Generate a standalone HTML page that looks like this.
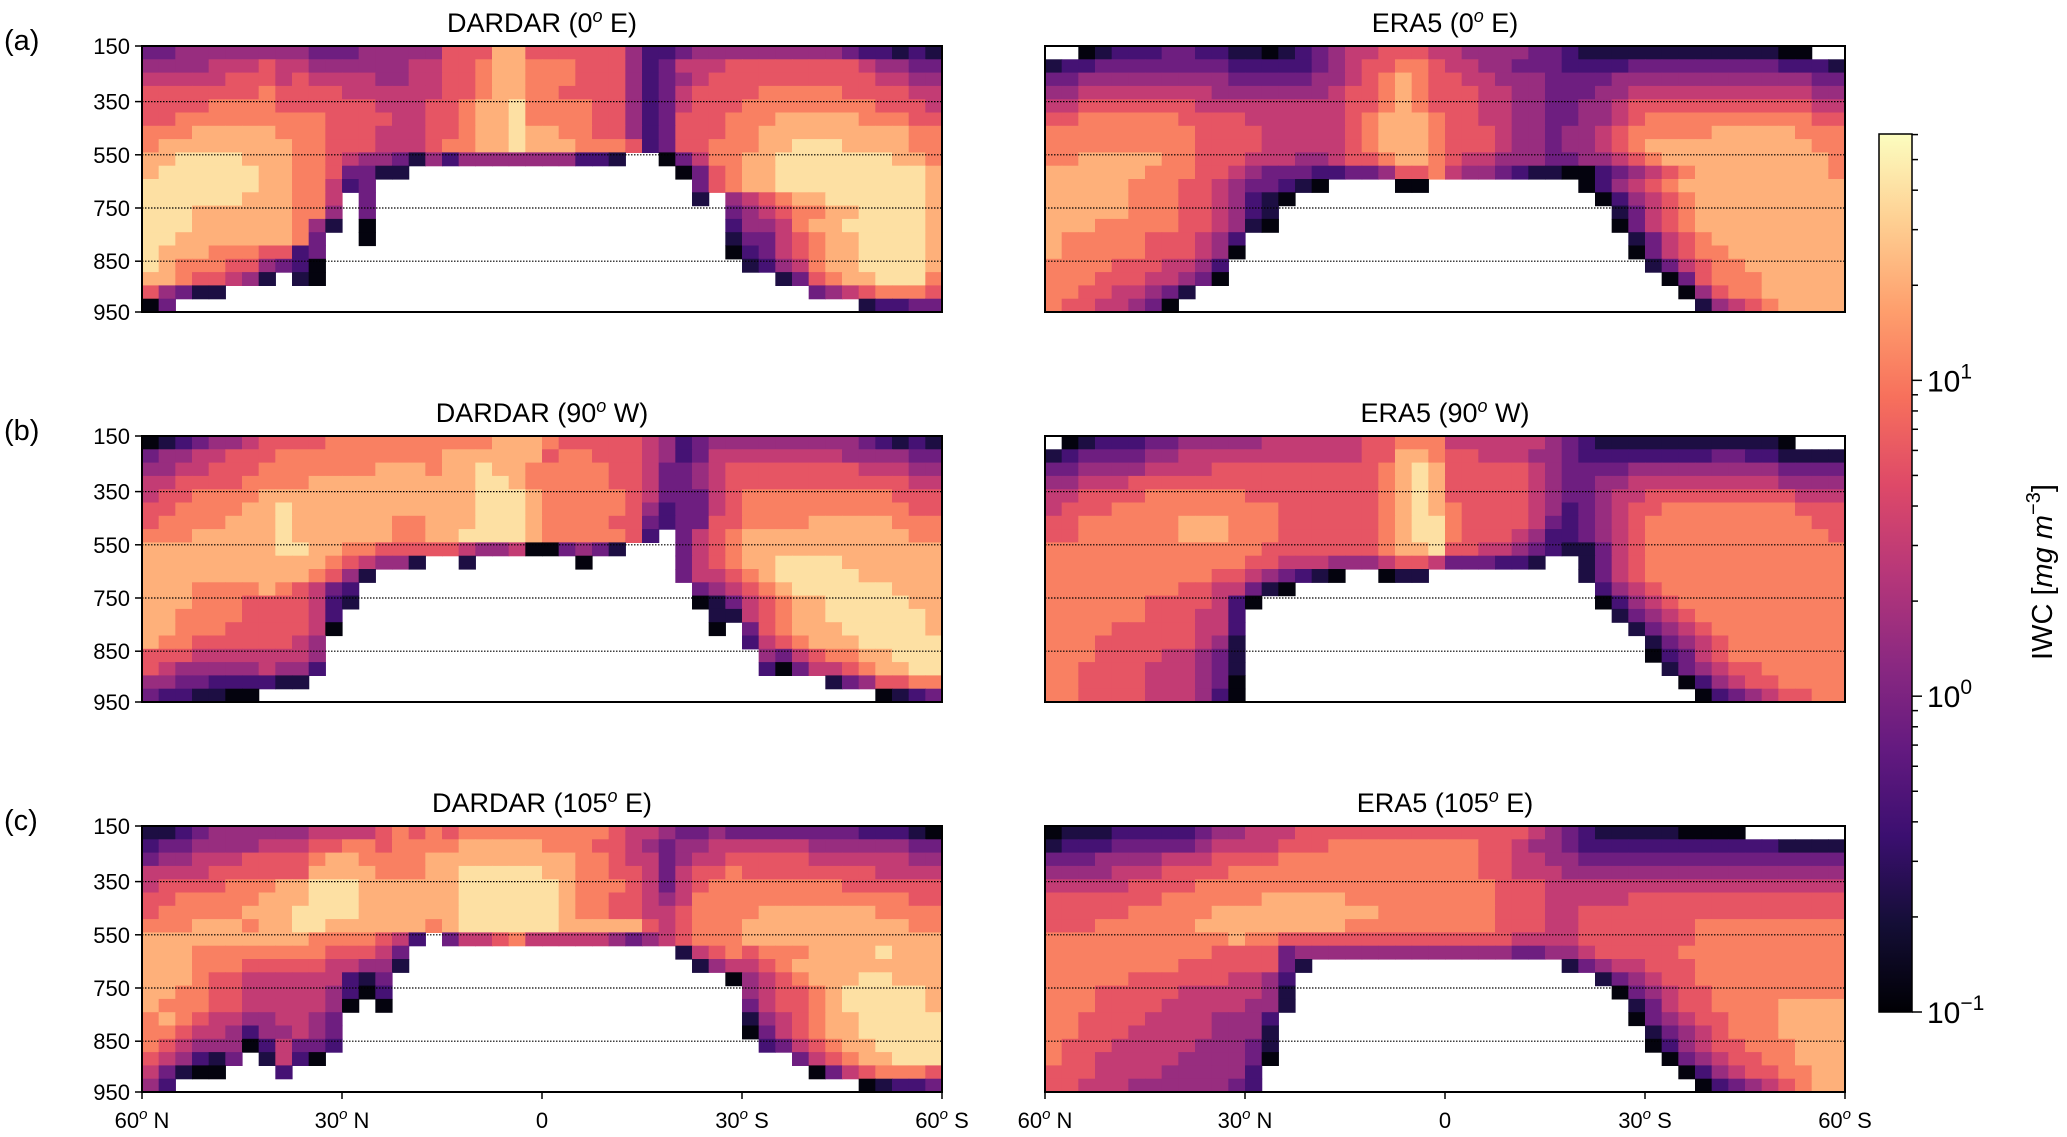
<!DOCTYPE html>
<html><head><meta charset="utf-8"><style>
html,body{margin:0;padding:0;background:#fff}
svg{display:block}
text{font-family:"Liberation Sans","DejaVu Sans",sans-serif;fill:#000}
</style></head><body>
<svg id="fig" width="2067" height="1137" viewBox="0 0 2067 1137" xmlns="http://www.w3.org/2000/svg">
<defs>
<linearGradient id="magmaGrad" x1="0" y1="1" x2="0" y2="0">
<stop offset="0" stop-color="#000004"/><stop offset="0.1" stop-color="#140e36"/><stop offset="0.2" stop-color="#3b0f70"/><stop offset="0.3" stop-color="#641a80"/><stop offset="0.4" stop-color="#8c2981"/><stop offset="0.5" stop-color="#b73779"/><stop offset="0.6" stop-color="#de4968"/><stop offset="0.7" stop-color="#f7705c"/><stop offset="0.8" stop-color="#fe9f6d"/><stop offset="0.9" stop-color="#fecf92"/><stop offset="1" stop-color="#fcfdbf"/>
</linearGradient>
</defs>
</svg>
<script>
// IWC log-binned levels (0 = ~0.1 mg m-3 ... 9 = ~40 mg m-3), '.' = no data. 48 latitude bins (60N..60S) x 20 pressure bins (150..950)
const latTicks = ["60ᵒ N","30ᵒ N","0","30ᵒ S","60ᵒ S"];
const presTicks = ["150","350","550","750","850","950"];
const cbarTicks = ["-1","0","1"];
const dardar0E = [
"33444444 44333444 44666886 66666422 34444444 44322121",
"44445556 55444444 55667887 77666423 55566666 66654433",
"55555666 56555544 55667887 77666423 45666666 66665544",
"66666667 66665555 55667887 76666423 56666777 77666655",
"66667777 66666655 56678897 77766423 56667777 77776665",
"66777777 77766665 56678897 77766423 66677788 88877766",
"77788888 77766655 56678898 87766423 66677888 88888877",
"78888888 87766655 56778898 88777623 66777889 99888877",
"88999988 87765443 14244444 44221..0 35778899 99999887",
"89999998 87763311 ........ ........ 03678899 99999998",
"99999998 877523.. ........ ........ .3678899 99999998",
"99999988 8775.3.. ........ ........ .1.45678 89999998",
"99988888 8774.3.. ........ ........ ...34567 78899998",
"99988888 8741.0.. ........ ........ ...24457 88999998",
"99888888 873..0.. ........ ........ ...13356 78899998",
"98887776 623..... ........ ........ ...02356 78899998",
"98777664 320..... ........ ........ ....1245 78899998",
"88766541 .10..... ........ ........ ......13 67889997",
"64311... ........ ........ ........ ........ 34567776",
"03...... ........ ........ ........ ........ ...12233"];
const era0E = [
"..012223 32211012 34556665 54444332 11111111 111100..",
"12233333 33322222 34566776 55443332 22233333 33332221",
"33444444 44433333 44567876 65544433 33444444 44444433",
"44555555 55444444 45667876 66554433 34455555 55555544",
"55666666 65555555 55667876 66554433 44566666 66666655",
"66777777 66665555 55678887 66554433 44567777 77777766",
"77777777 76666555 55678887 66654434 45677777 88888777",
"77777777 76666555 55678887 66654434 45678888 88888877",
"77888887 76665554 45667887 65544433 44567888 88888887",
"88888877 76654333 22334667 54432110 02345678 88888887",
"88888777 66543321 0....00. ........ 02456788 88888888",
"88888777 6654210. ........ ........ .0245678 88888888",
"88888777 665421.. ........ ........ ..135678 88888888",
"88877777 665410.. ........ ........ ..035678 88888888",
"87777766 6542.... ........ ........ ...13567 88888888",
"87777766 6540.... ........ ........ ...03567 78888888",
"77776665 542..... ........ ........ ....1356 77888888",
"77766655 430..... ........ ........ .....036 77788888",
"77665543 1....... ........ ........ ......04 67788888",
"76655430 ........ ........ ........ .......1 45678888"];
const dardar90W = [
"01234456 66677777 77777888 76666654 23444444 44432121",
"34455666 77777777 77888888 67766654 23555555 55444433",
"44556667 77777788 87889887 77776653 34566666 66655544",
"55666677 77888888 88889987 77776653 34566666 66666655",
"56677778 88888888 88889998 77777653 33567777 77777666",
"66777788 98888888 88889998 77777642 33567777 77777766",
"67777888 98888887 78889998 77776632 33667777 88888777",
"77788888 98888887 78899998 7777762. 35678888 88888877",
"88888888 99887766 66654450 03431... 35678888 88888888",
"88888888 88876544 1..1.... ..0..... 35678899 99888888",
"88888888 887641.. ........ ........ 35567899 99988888",
"88877778 76532... ........ ........ .3456789 99999888",
"88877766 66521... ........ ........ .0135678 89999988",
"88777766 6652.... ........ ........ ..115678 89999998",
"88777666 6650.... ........ ........ ..0.3678 88999998",
"87766666 654..... ........ ........ ....2567 88899999",
"66655555 554..... ........ ........ .....435 67788999",
"65444445 442..... ........ ........ .....203 55678899",
"44332222 11...... ........ ........ ........ .1346677",
"3221100. ........ ........ ........ ........ ....0123"];
const era90W = [
".0122233 44444555 55566777 55555543 21111111 11110...",
"12333344 55555555 55566887 66555443 22222222 33221111",
"33444455 55666666 66667898 66666543 33344444 44443333",
"44555666 66666666 66667898 66666543 34455555 55554444",
"55666677 77776666 66667898 66666543 34556666 66666555",
"56667777 77777766 66667898 76666542 34566777 77777666",
"66777777 88877766 66667899 76666532 34567777 77777766",
"66777777 88877766 66667899 76665422 34567777 77777776",
"77777777 77777666 66667889 66554321 13567777 77777777",
"77777777 77776655 54445665 333221.. 13567777 77777777",
"77777777 77665432 10..011. ........ 13567777 77777777",
"77777777 6655310. ........ ........ .2456777 77777777",
"77777766 66520... ........ ........ .0245677 77777777",
"77777766 6552.... ........ ........ ..134567 77777777",
"77776666 6552.... ........ ........ ...13456 77777777",
"77766666 6541.... ........ ........ ....1345 67777777",
"77766665 5431.... ........ ........ ....0235 67777777",
"77666655 5431.... ........ ........ .....134 56677777",
"77666655 5430.... ........ ........ ......02 45667777",
"77666655 5420.... ........ ........ .......0 23456677"];
const dardar105E = [
"11234444 44555567 67677777 77776554 33433333 33322210",
"23344445 55667767 77788888 77766543 44555555 44444433",
"34455566 66788777 78888888 88776553 45566666 55555544",
"55556666 66888877 78899999 88776653 56676666 66665555",
"56666777 88999888 88899999 98777653 56777777 77666666",
"66777778 88999888 88899999 98776654 57777777 77777766",
"67777788 89999888 88899999 98776655 67777888 88887777",
"77788878 89988888 87899999 98888865 67778888 88888877",
"88888888 88777765 2.355675 55554345 67778888 88888888",
"88877777 77766653 ........ ........ 15676777 88889888",
"88877766 66655441 ........ ........ .1455678 88888888",
"88876655 5555213. ........ ........ ...04567 88899888",
"88776655 5554202. ........ ........ ....4566 78999998",
"87776655 55540.0. ........ ........ ....3566 78999998",
"78765544 5543.... ........ ........ ....1456 78899999",
"77655424 4543.... ........ ........ ....0356 78899999",
"76544402 5332.... ........ ........ .....235 67889999",
"654213.1 520..... ........ ........ .......3 56788999",
"53100... 2....... ........ ........ ........ 03567776",
"42...... ........ ........ ........ ........ ...01223"];
const era105E = [
"01112222 23445556 66666666 66666543 21111100 00......",
"12223333 34555566 67777777 77665443 22222222 22221111",
"33344445 55666677 77777777 77665544 33333333 33333333",
"44445556 66677777 77777777 77665554 44444444 44444444",
"55555666 67777777 77777777 77766655 55555555 55555555",
"66666667 77777888 88777777 77766655 55566666 66666666",
"66666777 77888888 88887777 77766655 66666666 66666666",
"66677777 78888888 88777777 77766655 66666667 77777777",
"77777777 77787766 66666666 66665555 66666667 77777777",
"77777777 77666634 44444444 44443344 56666677 77777777",
"77777777 66666631 ........ .......1 34556667 77777777",
"77777666 6665542. ........ ........ .1345667 77777777",
"77766666 5555541. ........ ........ ..034566 77777777",
"77766665 5555441. ........ ........ ...13566 77778888",
"77666655 554442.. ........ ........ ...03456 67778888",
"77666555 554441.. ........ ........ ....1345 67778888",
"76665555 544431.. ........ ........ ....0245 66777888",
"76655555 444430.. ........ ........ .....034 56677888",
"66655554 44442... ........ ........ ......02 45667788",
"66555444 44432... ........ ........ .......0 23456788"];

const NS='http://www.w3.org/2000/svg';
const svg=document.getElementById('fig');
const stops=["#000004","#140e36","#3b0f70","#641a80","#8c2981","#b73779","#de4968","#f7705c","#fe9f6d","#fecf92","#fcfdbf"];
function hex(h){return [1,3,5].map(i=>parseInt(h.substr(i,2),16));}
function magma(t){t=Math.max(0,Math.min(1,t));const f=t*10,i=Math.min(9,Math.floor(f)),r=f-i;const a=hex(stops[i]),b=hex(stops[i+1]);return 'rgb('+a.map((v,k)=>Math.round(v+(b[k]-v)*r)).join(',')+')';}
function el(tag,attrs,parent){const e=document.createElementNS(NS,tag);for(const k in attrs)e.setAttribute(k,attrs[k]);(parent||svg).appendChild(e);return e;}

const gridFr=[0,0.209,0.409,0.609,0.809,1];
const panels=[
 {x:142,y:46,title:"DARDAR (",deg:"0",dir:" E)",data:dardar0E,lab:"(a)",left:true,bottom:false,name:"dardar-0e"},
 {x:1045,y:46,title:"ERA5 (",deg:"0",dir:" E)",data:era0E,left:false,bottom:false,name:"era5-0e"},
 {x:142,y:436,title:"DARDAR (",deg:"90",dir:" W)",data:dardar90W,lab:"(b)",left:true,bottom:false,name:"dardar-90w"},
 {x:1045,y:436,title:"ERA5 (",deg:"90",dir:" W)",data:era90W,left:false,bottom:false,name:"era5-90w"},
 {x:142,y:826,title:"DARDAR (",deg:"105",dir:" E)",data:dardar105E,lab:"(c)",left:true,bottom:true,name:"dardar-105e"},
 {x:1045,y:826,title:"ERA5 (",deg:"105",dir:" E)",data:era105E,left:false,bottom:true,name:"era5-105e"}];
const W=800,H=266,NC=48,NR=20;
function xScale(p,col){return p.x+col*W/NC;}
function yScale(p,row){return p.y+row*H/NR;}
function levelColor(d){return magma(0.02+d*0.102);}

panels.forEach(p=>{
  const g=el('g',{});
  
  
  p.data.forEach((rowStr,r)=>{
    const s=rowStr.replace(/ /g,'');
    for(let c=0;c<NC;c++){
      const ch=s[c];
      if(ch===undefined||ch==='.')continue;
      const x0=xScale(p,c),x1=xScale(p,c+1),y0=yScale(p,r),y1=yScale(p,r+1);
      const rc=el('rect',{x:x0.toFixed(2),y:y0.toFixed(2),width:(x1-x0+0.6).toFixed(2),height:(y1-y0+0.6).toFixed(2),fill:levelColor(+ch)},g);
      
      
    }
  });
  for(let i=1;i<5;i++){
    const yy=p.y+gridFr[i]*H;
    const ln=el('line',{x1:p.x,x2:p.x+W,y1:yy,y2:yy,stroke:'#000','stroke-width':1.2,'stroke-dasharray':'1.5,1.5'},g);
    
    
  }
  const fr=el('rect',{x:p.x,y:p.y,width:W,height:H,fill:'none',stroke:'#000','stroke-width':2},g);
  
  
  const t=el('text',{x:p.x+W/2,y:p.y-14,'text-anchor':'middle','font-size':27});
  
  
  t.appendChild(document.createTextNode(p.title+p.deg));
  const sup=el('tspan',{'font-size':18,dy:-10,'font-style':'italic'},t);sup.textContent='o';
  const rest=el('tspan',{dy:10},t);rest.textContent=p.dir;
  if(p.left){
    const lb=el('text',{x:4,y:p.y+4,'font-size':29});
    
    
    lb.textContent=p.lab;
    presTicks.forEach((lab,i)=>{
      const yy=p.y+gridFr[i]*H;
      el('line',{x1:p.x-7,x2:p.x,y1:yy,y2:yy,stroke:'#000','stroke-width':1.5});
      const tt=el('text',{x:p.x-12,y:yy+8,'text-anchor':'end','font-size':22});
      
      
      tt.textContent=lab;
    });
  }
  if(p.bottom){
    latTicks.forEach((lab,i)=>{
      const xx=p.x+i*W/4;
      el('line',{x1:xx,x2:xx,y1:p.y+H,y2:p.y+H+7,stroke:'#000','stroke-width':1.5});
      const tt=el('text',{x:xx,y:1128,'text-anchor':'middle','font-size':22});
      
      
      const parts=lab.split('ᵒ');
      tt.appendChild(document.createTextNode(parts[0]));
      if(parts.length>1){const s2=el('tspan',{'font-size':15,dy:-9,'font-style':'italic'},tt);s2.textContent='o';const s3=el('tspan',{dy:9},tt);s3.textContent=parts[1];}
    });
  }
});

const cbX=1879,cbW=33,cbTop=134,cbBot=1012,logMin=-1,logMax=1.78;
function cbY(lv){return cbBot-(lv-logMin)/(logMax-logMin)*(cbBot-cbTop);}
const cb=el('rect',{x:cbX,y:cbTop,width:cbW,height:cbBot-cbTop,fill:'url(#magmaGrad)',stroke:'#000','stroke-width':1.5});


for(let d=-1;d<=1;d++){for(let m=1;m<=9;m++){const lv=d+Math.log10(m);if(lv>logMax)continue;const yy=cbY(lv);
  el('line',{x1:cbX+cbW,x2:cbX+cbW+(m===1?10:6),y1:yy,y2:yy,stroke:'#000','stroke-width':1.5});}}
cbarTicks.forEach(e=>{
  const yy=cbY(+e);
  const tt=el('text',{x:cbX+cbW+15,y:yy+11,'font-size':30,'font-family':'DejaVu Sans, sans-serif'});
  
  
  tt.appendChild(document.createTextNode('10'));
  const s=el('tspan',{'font-size':21,dy:-13},tt);s.textContent=(e==='-1'?'\u22121':e);
});
const cl=el('text',{x:0,y:0,'text-anchor':'middle','font-size':29,transform:'translate(2052,572) rotate(-90)'});


cl.appendChild(document.createTextNode('IWC ['));
const it=el('tspan',{'font-style':'italic'},cl);it.textContent='mg m';
const ex=el('tspan',{'font-size':20,dy:-12},cl);ex.textContent='\u22123';
const cb2=el('tspan',{dy:12},cl);cb2.textContent=']';
</script>
</body></html>
